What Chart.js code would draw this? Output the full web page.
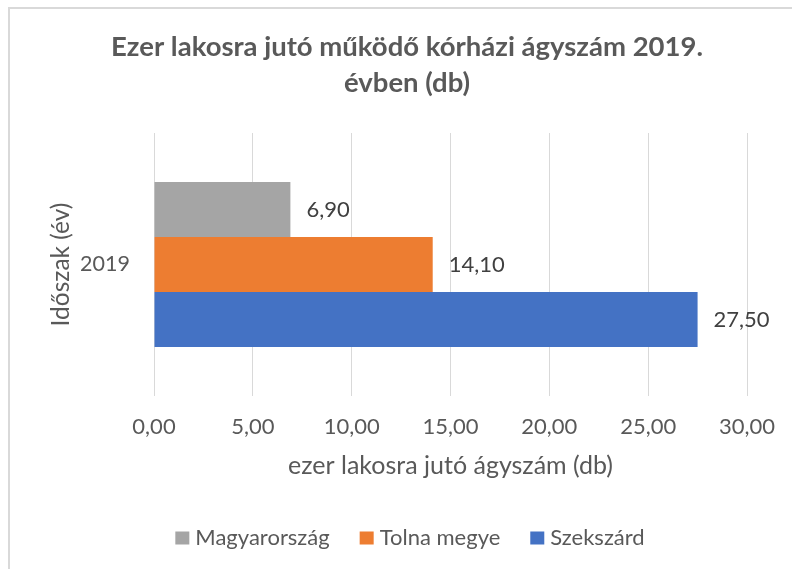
<!DOCTYPE html>
<html>
<head>
<meta charset="utf-8">
<script src="https://cdn.jsdelivr.net/npm/chart.js@4"></script>
<style>
  html, body { margin: 0; padding: 0; background: #fff; overflow: hidden; }
  #frame { position: absolute; left: 8px; top: 7px; width: 820px; height: 620px; border: 2px solid #d9d9d9; box-sizing: border-box; }
  #wrap { position: absolute; left: 0; top: 0; width: 792px; height: 569px; }
</style>
</head>
<body>
<div id="frame"></div>
<div id="wrap"><canvas id="c" width="792" height="569"></canvas></div>
<script>
// Hospital beds per thousand inhabitants, 2019
const categories = ['2019'];
const seriesNames = ['Magyarország', 'Tolna megye', 'Szekszárd'];
const magyarorszag = [6.90];
const tolnaMegye = [14.10];
const szekszard = [27.50];
const xTickValues = [0, 5, 10, 15, 20, 25, 30];

const seriesColors = ['#A5A5A5', '#ED7D31', '#4472C4'];
const TEXT = '#595959';
const FONT = 'Lato, "Open Sans", sans-serif';

const fmt = v => Number(v).toFixed(2).replace('.', ',');

// Value labels to the right of each bar
const barValueLabels = {
  id: 'barValueLabels',
  afterDatasetsDraw(chart) {
    const ctx = chart.ctx;
    ctx.save();
    ctx.font = '22px ' + FONT;
    ctx.fillStyle = '#404040';
    ctx.textAlign = 'left';
    ctx.textBaseline = 'middle';
    chart.data.datasets.forEach((ds, i) => {
      chart.getDatasetMeta(i).data.forEach((bar, j) => {
        ctx.fillText(fmt(ds.data[j]), bar.x + 16, bar.y);
      });
    });
    ctx.restore();
  }
};

// Legend row under the axis title
const bottomLegend = {
  id: 'bottomLegend',
  afterDraw(chart) {
    const ctx = chart.ctx;
    ctx.save();
    ctx.font = '22px ' + FONT;
    const box = 14, gap = 6, spacing = 30;
    const items = chart.data.datasets.map(ds => ({
      text: ds.label, color: ds.backgroundColor, w: ctx.measureText(ds.label).width
    }));
    const total = items.reduce((s, it) => s + box + gap + it.w, 0) + spacing * (items.length - 1);
    let x = 410 - total / 2;
    const cy = 538;
    ctx.textBaseline = 'middle';
    ctx.textAlign = 'left';
    items.forEach(it => {
      ctx.fillStyle = it.color;
      ctx.fillRect(x, cy - 6.5, box, 13);
      ctx.fillStyle = TEXT;
      ctx.fillText(it.text, x + box + gap, cy);
      x += box + gap + it.w + spacing;
    });
    ctx.restore();
  }
};

function build() {
  new Chart(document.getElementById('c'), {
    type: 'bar',
    data: {
      labels: categories,
      datasets: [
        { label: seriesNames[0], data: magyarorszag, backgroundColor: seriesColors[0] },
        { label: seriesNames[1], data: tolnaMegye, backgroundColor: seriesColors[1] },
        { label: seriesNames[2], data: szekszard, backgroundColor: seriesColors[2] }
      ]
    },
    options: {
      indexAxis: 'y',
      responsive: false,
      animation: false,
      devicePixelRatio: 1,
      datasets: { bar: { categoryPercentage: 0.627, barPercentage: 1.0, borderWidth: 0 } },
      layout: { padding: { left: 22, right: 0, top: 0, bottom: 83 } },
      plugins: {
        legend: { display: false },
        tooltip: { enabled: false },
        title: {
          display: true,
          text: ['Ezer lakosra jutó működő kórházi ágyszám 2019.', 'évben (db)'],
          color: TEXT,
          font: { family: FONT, size: 27.5, weight: 'bold', lineHeight: 1.309 },
          padding: { top: 29, bottom: 32 }
        }
      },
      scales: {
        x: {
          type: 'linear',
          min: xTickValues[0],
          max: xTickValues[xTickValues.length - 1],
          afterBuildTicks(scale) { scale.ticks = xTickValues.map(v => ({ value: v })); },
          grid: { color: '#d9d9d9', lineWidth: 1, drawTicks: false },
          border: { display: false },
          ticks: {
            color: TEXT, padding: 18,
            font: { family: FONT, size: 22 },
            callback: v => fmt(v)
          },
          title: {
            display: true, text: 'ezer lakosra jutó ágyszám (db)', color: TEXT,
            font: { family: FONT, size: 25 }, padding: { top: 0, bottom: 5 }
          },
          afterFit(scale) { scale.height = 90; scale.paddingLeft = 0; scale.paddingRight = 45; }
        },
        y: {
          grid: { display: false, drawTicks: false },
          border: { display: false },
          ticks: { color: TEXT, padding: 24, font: { family: FONT, size: 21.5 } },
          title: {
            display: true, text: 'Időszak (év)', color: TEXT,
            font: { family: FONT, size: 24.5 }, padding: { top: 24.3, bottom: 0 }
          },
          afterFit(scale) { scale.width = 132; }
        }
      }
    },
    plugins: [barValueLabels, bottomLegend]
  });
}

Promise.all([
  document.fonts.load('22px Lato'),
  document.fonts.load('bold 27px Lato')
]).then(build, build);
</script>
</body>
</html>
